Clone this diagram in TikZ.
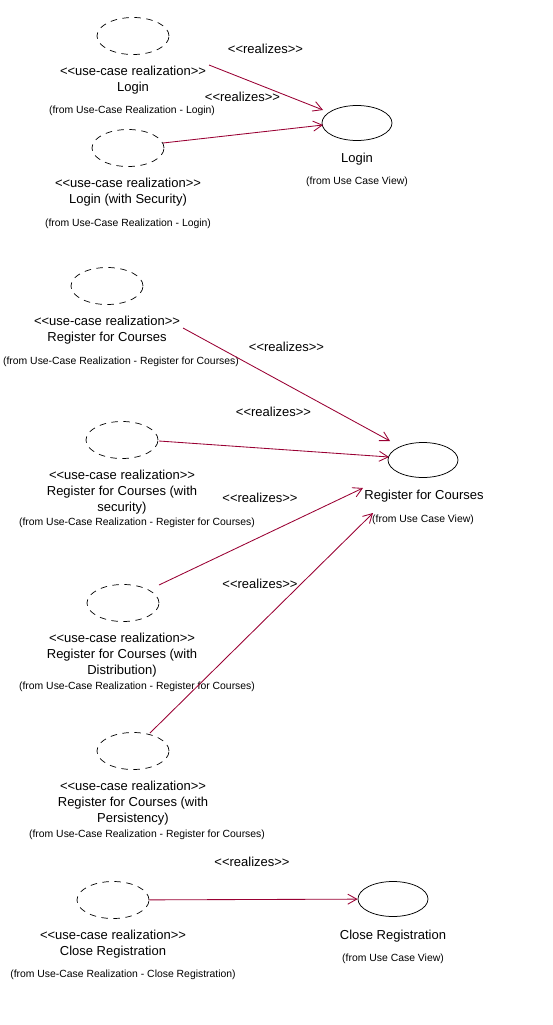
\documentclass[tikz,border=0pt]{standalone}
\usepackage{fontspec}
\setmainfont{Liberation Sans}
\usetikzlibrary{shapes.geometric,arrows.meta}
\newcommand\stL{{<}{<}}
\newcommand\stR{{>}{>}}
\definecolor{rel}{RGB}{153,0,51}
\begin{document}
\begin{tikzpicture}[x=1pt,y=-1pt,
 real/.style={ellipse,draw,line width=0.7pt,dash pattern=on 6.5pt off 5.5pt,minimum width=72pt,minimum height=37pt,inner sep=0pt},
 uc/.style={ellipse,draw,line width=0.75pt,minimum width=70pt,minimum height=35pt,inner sep=0pt},
 lbl/.style={font=\fontsize{13}{16}\selectfont,align=center,inner sep=0pt},
 frm/.style={font=\fontsize{10.4}{12}\selectfont,inner sep=0pt},
 rz/.style={draw=rel,line width=0.85pt,-{Straight Barb[length=9pt,width=10pt]}},
 rzl/.style={font=\fontsize{13}{15}\selectfont,inner sep=0pt}]
\useasboundingbox (0,0) rectangle (553,1025);

% Login group
\node[real] (l1) at (133,36) {};
\node[lbl] (l1t) at (133,80) {\stL use-case realization\stR\\Login};
\node[frm] (l1f) at (132,111) {(from Use-Case Realization - Login)};
\node[real] (l2) at (128,148) {};
\node[lbl] (l2t) at (128,192) {\stL use-case realization\stR\\Login (with Security)};
\node[frm] (l2f) at (128,224) {(from Use-Case Realization - Login)};
\node[uc] (login) at (357,123) {};
\node[lbl] (logint) at (357,159) {Login};
\node[frm] (loginf) at (357,182) {(from Use Case View)};
\coordinate (s1) at (209,65);
\coordinate (e1) at (323,110);
\coordinate (s2) at (163,143);
\coordinate (e2) at (323,125);
\draw[rz] (s1) -- (e1);
\draw[rz] (s2) -- (e2);
\node[rzl] (r1) at (265.5,49) {\stL realizes\stR};
\node[rzl] (r2) at (242.5,97) {\stL realizes\stR};

% Register for Courses group
\node[real] (c1) at (107,286) {};
\node[lbl] (c1t) at (107,330) {\stL use-case realization\stR\\Register for Courses};
\node[frm] (c1f) at (121,362) {(from Use-Case Realization - Register for Courses)};
\node[real] (c2) at (122,440) {};
\node[lbl] (c2t) at (122,492.5) {\stL use-case realization\stR\\Register for Courses (with\\security)};
\node[frm] (c2f) at (137,523) {(from Use-Case Realization - Register for Courses)};
\node[real] (c3) at (123,603) {};
\node[lbl] (c3t) at (122,655) {\stL use-case realization\stR\\Register for Courses (with\\Distribution)};
\node[frm] (c3f) at (137,687) {(from Use-Case Realization - Register for Courses)};
\node[real] (c4) at (133,751) {};
\node[lbl] (c4t) at (133,803) {\stL use-case realization\stR\\Register for Courses (with\\Persistency)};
\node[frm] (c4f) at (147,835) {(from Use-Case Realization - Register for Courses)};
\node[uc] (rfc) at (423,460) {};
\node[lbl] (rfct) at (424,496) {Register for Courses};
\node[frm] (rfcf) at (423,520) {(from Use Case View)};
\coordinate (s3) at (183,328);
\coordinate (e3) at (390,441);
\coordinate (s4) at (159,441);
\coordinate (e4) at (389,457);
\coordinate (s5) at (159,585);
\coordinate (e5) at (363,488);
\coordinate (s6) at (150,733);
\coordinate (e6) at (373,513);
\draw[rz] (s3) -- (e3);
\draw[rz] (s4) -- (e4);
\draw[rz] (s5) -- (e5);
\draw[rz] (s6) -- (e6);
\node[rzl] (r3) at (286.5,347) {\stL realizes\stR};
\node[rzl] (r4) at (273.5,412) {\stL realizes\stR};
\node[rzl] (r5) at (260,498) {\stL realizes\stR};
\node[rzl] (r6) at (260,584) {\stL realizes\stR};

% Close Registration group
\node[real] (cr) at (113,900) {};
\node[lbl] (crt) at (113,944) {\stL use-case realization\stR\\Close Registration};
\node[frm] (crf) at (123,975) {(from Use-Case Realization - Close Registration)};
\node[uc] (cruc) at (393,899) {};
\node[lbl] (cruct) at (393,936) {Close Registration};
\node[frm] (crucf) at (393,959) {(from Use Case View)};
\draw[rz] (cr) -- (cruc);
\node[rzl] (r7) at (252,862) {\stL realizes\stR};
\end{tikzpicture}
\end{document}
